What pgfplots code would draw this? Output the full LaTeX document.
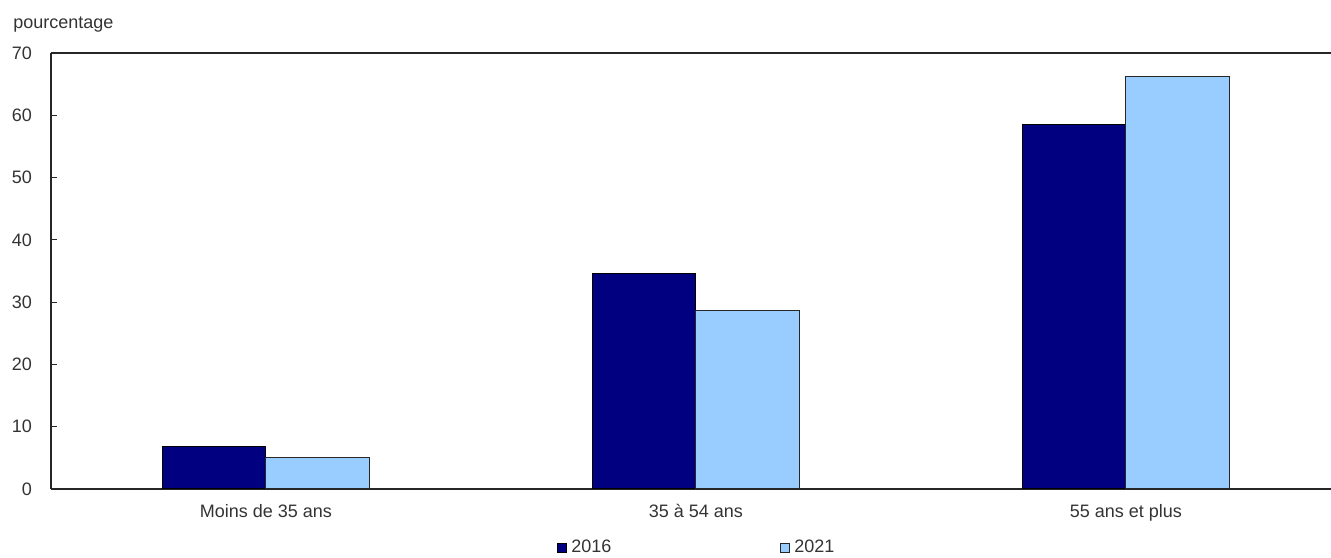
\documentclass[border=0pt]{standalone}
\usepackage{fontspec}
\setmainfont{Liberation Sans}
\usepackage{pgfplots}
\pgfplotsset{compat=1.18}
\definecolor{bleufonce}{RGB}{0,0,128}
\definecolor{bleuclair}{RGB}{153,204,255}
\definecolor{texte}{RGB}{51,51,51}
\newcommand{\petit}{\fontsize{9}{10.5}\selectfont}
\begin{document}
\begin{tikzpicture}
\begin{axis}[
    scale only axis, width=640pt, height=218pt,
    xmin=-0.5, xmax=2.477, ymin=0, ymax=70,
    ybar=0pt, bar width=0.24,
    axis lines*=left, axis line style={-, line width=0.6pt, black!85},
    xtick={0,1,2},
    xticklabels={Moins de 35 ans, 35 à 54 ans, 55 ans et plus},
    major x tick style={draw=none},
    ytick={0,10,...,70},
    tick align=inside, major tick length=3pt,
    major y tick style={line width=0.5pt, black!85},
    tick label style={font=\petit, text=texte},
    yticklabel style={xshift=-6pt},
    xticklabel style={yshift=-4pt},
    /pgf/number format/assume math mode=true,
    legend columns=2,
    legend style={draw=none, fill=none, inner sep=0pt,
        at={(0.3953,-0.1353)}, anchor=west, font=\petit,
        nodes={inner sep=0pt, text=texte},
        /tikz/every odd column/.append style={column sep=2pt},
        /tikz/every even column/.append style={column sep=84.5pt}},
    legend image code/.code={\draw[#1] (0pt,-2.25pt) rectangle (4.5pt,2.25pt);},
]
\addplot[fill=bleufonce, draw=black, line width=0.5pt]
    coordinates {(0,6.8) (1,34.6) (2,58.5)};
\addplot[fill=bleuclair, draw=black!85, line width=0.5pt]
    coordinates {(0,5.0) (1,28.6) (2,66.2)};
\legend{2016, 2021}
\draw[line width=0.6pt, black!85] (rel axis cs:0,1) -- (rel axis cs:1,1);
\end{axis}
\node[anchor=base west, inner sep=0pt, font=\petit, text=texte]
    at ([xshift=-19pt, yshift=12pt]current axis.north west) {pourcentage};
\pgfresetboundingbox
\path[use as bounding box] ([xshift=-25.5pt, yshift=-34.5pt]current axis.south west)
    rectangle ([yshift=26.5pt]current axis.north east);
\end{tikzpicture}
\end{document}
